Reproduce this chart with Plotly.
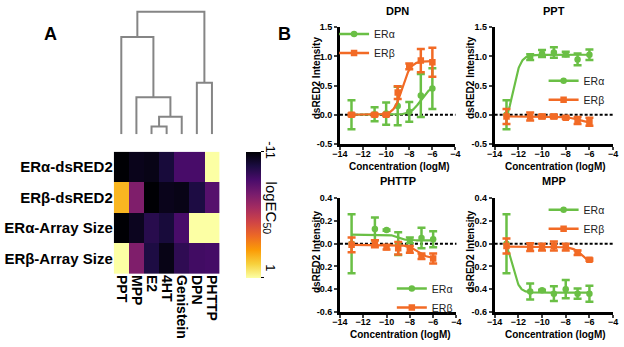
import numpy as np
import plotly.graph_objects as go

W, H = 624, 347
FONT = "Liberation Sans, Arial, sans-serif"
GREEN = "#6abf45"
ORANGE = "#f26a25"

# ---------------- Panel A data ----------------
compounds = ["PPT", "MPP", "E2", "4HT", "Genistein", "DPN", "PHTTP"]
assays = ["ERα-dsRED2", "ERβ-dsRED2", "ERα-Array Size", "ERβ-Array Size"]
log_ec50_era_dsred2 = [-11.0, -10.5, -10.6, -9.8, -8.4, -8.4, 1.0]
log_ec50_erb_dsred2 = [-1.0, -6.8, -11.0, -10.5, -10.6, -9.6, -8.0]
log_ec50_era_array = [-11.0, -10.4, -9.3, -9.8, -8.4, 1.0, 1.0]
log_ec50_erb_array = [1.0, -6.8, -9.6, -10.6, -9.1, -8.6, -8.5]
cbar_ticks = [-11, 1]

# dendrogram linkage: (left child, right child, height); leaves 0..6, new nodes from 7
linkage = [
    (2, 3, 8),      # 7: E2 + 4HT
    (7, 4, 18),     # 8: + Genistein
    (1, 8, 38),     # 9: MPP + ...
    (0, 9, 100),    # 10: PPT + ...
    (5, 6, 53),     # 11: DPN + PHTTP
    (10, 11, 126),  # 12: root
]

# ---------------- Panel B data ----------------
conc = [-13, -11, -10, -9, -8, -7, -6]

dpn_era_mean = [0.0, 0.01, 0.02, 0.15, 0.05, 0.33, 0.45]
dpn_era_err = [0.25, 0.12, 0.19, 0.33, 0.17, 0.37, 0.35]
dpn_erb_mean = [0.0, 0.0, 0.0, 0.38, 0.83, 0.93, 0.90]
dpn_erb_err = [0.02, 0.02, 0.02, 0.11, 0.05, 0.20, 0.25]
dpn_era_fit = [0.0, 0.50, -7.0, 1.0]      # bottom, top, logEC50, hill
dpn_erb_fit = [0.0, 0.92, -8.6, 1.2]

ppt_era_mean = [0.0, 0.99, 1.05, 1.07, 1.04, 0.95, 1.03]
ppt_era_err = [0.25, 0.05, 0.06, 0.09, 0.04, 0.10, 0.09]
ppt_erb_mean = [-0.03, -0.03, -0.03, -0.03, -0.05, -0.10, -0.12]
ppt_erb_err = [0.13, 0.07, 0.03, 0.03, 0.02, 0.06, 0.07]
ppt_era_fit = [-0.3, 1.03, -12.5, 1.3]
ppt_erb_fit = [-0.03, -0.14, -7.0, 1.0]

phttp_era_mean = [0.0, 0.13, 0.12, 0.0, 0.03, 0.05, 0.04]
phttp_era_err = [0.26, 0.10, 0.005, 0.10, 0.025, 0.09, 0.07]
phttp_erb_mean = [-0.01, 0.0, -0.03, -0.04, -0.05, -0.11, -0.13]
phttp_erb_err = [0.065, 0.03, 0.02, 0.055, 0.03, 0.025, 0.045]
phttp_era_fit = [0.08, 0.03, -9.0, 1.5]
phttp_erb_fit = [-0.01, -0.13, -7.3, 1.0]

mpp_era_mean = [0.0, -0.42, -0.41, -0.44, -0.40, -0.44, -0.44]
mpp_era_err = [0.26, 0.07, 0.005, 0.065, 0.08, 0.045, 0.07]
mpp_erb_mean = [-0.02, -0.03, -0.03, -0.02, -0.03, -0.08, -0.14]
mpp_erb_err = [0.065, 0.035, 0.03, 0.04, 0.03, 0.02, 0.01]
mpp_era_fit = [0.05, -0.43, -12.5, 1.5]
mpp_erb_fit = [-0.025, -0.20, -6.5, 1.0]

x_ticks = [-14, -12, -10, -8, -6, -4]
y_ticks_top = [-0.5, 0.0, 0.5, 1.0, 1.5]
y_ticktext_top = ["-0.5", "0.0", "0.5", "1.0", "1.5"]
y_ticks_bot = [-0.6, -0.4, -0.2, 0.0, 0.2, 0.4]
y_ticktext_bot = ["-0.6", "-0.4", "-0.2", "-0.0", "0.2", "0.4"]

# ---------------- helpers ----------------
def fx(p):
    return p / W

def fy(p):
    return 1 - p / H

def hill(x, p):
    b, t, ec, h = p
    return b + (t - b) / (1 + 10 ** ((ec - x) * h))

fig = go.Figure()

# ---------------- heatmap ----------------
# colour bar in the reference runs -11 (black, top) to 1 (pale yellow, bottom):
# plot the negated values with the reversed palette so the bar is oriented the same way
z = -np.array([log_ec50_era_dsred2, log_ec50_erb_dsred2, log_ec50_era_array, log_ec50_erb_array])
fig.add_trace(go.Heatmap(
    z=z, x=compounds, y=assays, zmin=-cbar_ticks[1], zmax=-cbar_ticks[0],
    colorscale="Inferno_r",
    xaxis="x", yaxis="y", hoverinfo="skip",
    colorbar=dict(x=fx(243), xanchor="left", y=fy(151), yanchor="top",
                  len=126, lenmode="pixels", thickness=15, thicknessmode="pixels",
                  outlinewidth=0, tickvals=[-t for t in cbar_ticks], ticks="outside", ticklen=3,
                  tickcolor="black", showticklabels=False, xpad=0, ypad=0),
))

# ---------------- dendrogram ----------------
pos = {i: float(i) for i in range(len(compounds))}
hgt = {i: 0.0 for i in range(len(compounds))}
dx, dy = [], []
for k, (a, b, h) in enumerate(linkage):
    node = len(compounds) + k
    dx += [pos[a], pos[a], pos[b], pos[b], None]
    dy += [hgt[a], h, h, hgt[b], None]
    pos[node] = (pos[a] + pos[b]) / 2
    hgt[node] = h
fig.add_trace(go.Scatter(x=dx, y=dy, mode="lines", xaxis="x2", yaxis="y2",
                         line=dict(color="#858585", width=2), showlegend=False,
                         hoverinfo="skip"))

# ---------------- dose-response panels ----------------
panels = [
    ("DPN", dpn_era_mean, dpn_era_err, dpn_erb_mean, dpn_erb_err, dpn_era_fit, dpn_erb_fit,
     (339, 457, 23, 143), [-0.5, 1.5], "top", (333, 15)),
    ("PPT", ppt_era_mean, ppt_era_err, ppt_erb_mean, ppt_erb_err, ppt_era_fit, ppt_erb_fit,
     (497, 618, 23, 143), [-0.5, 1.5], "top", (547, 63)),
    ("PHTTP", phttp_era_mean, phttp_era_err, phttp_erb_mean, phttp_erb_err, phttp_era_fit, phttp_erb_fit,
     (339, 458, 199, 316), [-0.6, 0.4], "bot", (392, 277)),
    ("MPP", mpp_era_mean, mpp_era_err, mpp_erb_mean, mpp_erb_err, mpp_era_fit, mpp_erb_fit,
     (497, 618, 199, 316), [-0.6, 0.4], "bot", (547, 196)),
]

annotations = []
shapes = []
layout_axes = {}
xc = np.linspace(min(conc), max(conc), 200)

for i, (name, am, ae, bm, be, af, bf, box, yr, kind, leg) in enumerate(panels):
    n = i + 3
    xa, ya = f"x{n}", f"y{n}"
    lg = "legend" if i == 0 else f"legend{i + 1}"
    x0, x1, y0, y1 = box
    for mean, err, fit, col, sym, lab in [
        (am, ae, af, GREEN, "circle", "ERα"),
        (bm, be, bf, ORANGE, "square", "ERβ"),
    ]:
        fig.add_trace(go.Scatter(x=xc, y=hill(xc, fit), mode="lines", xaxis=xa, yaxis=ya,
                                 line=dict(color=col, width=2.2), showlegend=False,
                                 hoverinfo="skip"))
        fig.add_trace(go.Scatter(x=conc, y=mean, mode="markers", xaxis=xa, yaxis=ya,
                                 marker=dict(color=col, symbol=sym, size=6.5),
                                 error_y=dict(type="data", array=err, color=col,
                                              thickness=2.5, width=4),
                                 showlegend=False, hoverinfo="skip"))
        fig.add_trace(go.Scatter(x=[None], y=[None], mode="lines+markers", xaxis=xa, yaxis=ya,
                                 line=dict(color=col, width=2.5),
                                 marker=dict(color=col, symbol=sym, size=6.5),
                                 name=lab, legend=lg, showlegend=True))
    layout_axes[lg] = dict(x=fx(leg[0]), y=fy(leg[1]), xanchor="left", yanchor="top",
                           bgcolor="rgba(0,0,0,0)", font=dict(family=FONT, size=10.5, color="#222"),
                           itemwidth=30, tracegroupgap=0)
    xkey = "xaxis" + str(n)
    ykey = "yaxis" + str(n)
    layout_axes[xkey] = dict(domain=[fx(x0), fx(x1)], anchor=ya, range=[-14, -4],
                             tickvals=x_ticks, ticks="outside", ticklen=3, tickwidth=2,
                             showline=True, linewidth=2.5, linecolor="black",
                             showgrid=False, zeroline=False,
                             tickfont=dict(family=FONT, size=9, color="black", weight="bold"))
    tv, tt = (y_ticks_top, y_ticktext_top) if kind == "top" else (y_ticks_bot, y_ticktext_bot)
    layout_axes[ykey] = dict(domain=[fy(y1), fy(y0)], anchor=xa, range=yr,
                             tickvals=tv, ticktext=tt, ticks="outside", ticklen=3, tickwidth=2,
                             showline=True, linewidth=2.5, linecolor="black",
                             showgrid=False, zeroline=False,
                             tickfont=dict(family=FONT, size=9, color="black", weight="bold"))
    shapes.append(dict(type="line", xref=f"{xa} domain", yref=ya, x0=0, x1=1, y0=0, y1=0,
                       line=dict(color="black", width=2, dash="3px,2px"), layer="below"))
    cx = (x0 + x1) / 2
    title_y = 6 if kind == "top" else 181
    annotations.append(dict(text=name, x=fx(cx), y=fy(title_y), xref="paper", yref="paper",
                            showarrow=False, xanchor="center", yanchor="middle",
                            font=dict(family=FONT, size=11, color="black", weight="bold")))
    annotations.append(dict(text="Concentration (logM)", x=fx(cx + 2), y=fy(y1 + 23),
                            xref="paper", yref="paper", showarrow=False,
                            xanchor="center", yanchor="middle",
                            font=dict(family=FONT, size=10, color="black", weight="bold")))
    annotations.append(dict(text="dsRED2 Intensity", x=fx(x0 - 24),
                            y=fy(75 if kind == "top" else 254),
                            xref="paper", yref="paper", showarrow=False, textangle=-90,
                            xanchor="center", yanchor="middle",
                            font=dict(family=FONT, size=10, color="black", weight="bold")))

# panel letters and colorbar text
annotations += [
    dict(text="A", x=fx(35), y=fy(18), xref="paper", yref="paper", showarrow=False,
         font=dict(family=FONT, size=18, color="black", weight="bold")),
    dict(text="B", x=fx(282), y=fy(18), xref="paper", yref="paper", showarrow=False,
         font=dict(family=FONT, size=18, color="black", weight="bold")),
    dict(text=str(cbar_ticks[0]), x=fx(268), y=fy(150), xref="paper", yref="paper",
         showarrow=False, textangle=90, font=dict(family=FONT, size=13, color="black")),
    dict(text=str(cbar_ticks[1]), x=fx(268), y=fy(276), xref="paper", yref="paper",
         showarrow=False, textangle=90, font=dict(family=FONT, size=13, color="black")),
    dict(text="logEC<sub>50</sub>", x=fx(268), y=fy(209), xref="paper", yref="paper",
         showarrow=False, textangle=90, font=dict(family=FONT, size=15, color="black")),
]

fig.update_layout(
    width=W, height=H, margin=dict(l=0, r=0, t=0, b=0),
    paper_bgcolor="white", plot_bgcolor="white",
    xaxis=dict(domain=[fx(108), fx(216)], anchor="y", tickangle=90, ticks="",
               tickmode="array", tickvals=compounds, ticktext=compounds,
               showline=False, showgrid=False, zeroline=False,
               tickfont=dict(family=FONT, size=14, color="black", weight="bold")),
    yaxis=dict(domain=[fy(277), fy(151)], anchor="x", autorange="reversed", ticks="",
               tickmode="array", tickvals=assays, ticktext=assays,
               showline=False, showgrid=False, zeroline=False,
               tickfont=dict(family=FONT, size=15, color="black", weight="bold")),
    xaxis2=dict(domain=[fx(108), fx(216)], anchor="y2", range=[-0.5, 6.5], visible=False),
    yaxis2=dict(domain=[fy(133), fy(5)], anchor="x2", range=[0, 128], visible=False),
    annotations=annotations, shapes=shapes,
    **layout_axes,
)

try:
    for n in range(3, 7):
        fig.layout["xaxis" + str(n)].ticklabelstandoff = -3
except Exception:
    pass

fig.write_html("out.html")
